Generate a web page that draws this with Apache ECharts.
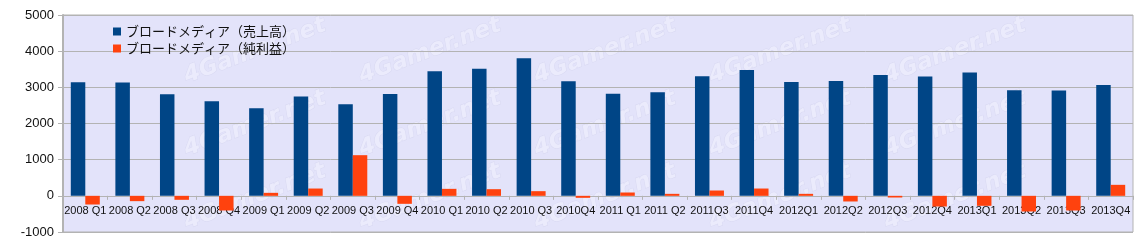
<!DOCTYPE html>
<html>
<head>
<meta charset="utf-8">
<script src="https://cdn.jsdelivr.net/npm/echarts@6/dist/echarts.min.js"></script>
<style>
html,body{margin:0;padding:0;background:#fff;}
#c{width:1146px;height:249px;}
</style>
</head>
<body>
<div id="c"></div>
<script>
const categories = ["2008 Q1","2008 Q2","2008 Q3","2008 Q4","2009 Q1","2009 Q2","2009 Q3","2009 Q4",
  "2010 Q1","2010 Q2","2010 Q3","2010Q4","2011 Q1","2011 Q2","2011Q3","2011Q4",
  "2012Q1","2012Q2","2012Q3","2012Q4","2013Q1","2013Q2","2013Q3","2013Q4"];
const salesName = "ブロードメディア（売上高）";
const profitName = "ブロードメディア（純利益）";
const sales = [3140,3135,2808,2615,2422,2744,2532,2817,
  3444,3517,3803,3168,2826,2864,3306,3480,
  3149,3177,3343,3297,3407,2919,2910,3066];
const profit = [-240,-147,-110,-405,83,202,1124,-221,
  193,184,129,-55,92,55,147,202,
  55,-156,-46,-295,-276,-433,-405,304];
const yTicks = {min:-1000, max:5000, interval:1000};
const watermarkText = "4Gamer.net";

const gridTop = 15, gridBottom = 17, gridLeft = 63, gridRight = 13, W = 1146, H = 249;
const plotH = H - gridTop - gridBottom;
// move the category axis up to the zero line of the value scale
const zeroOffset = -plotH * (0 - yTicks.min) / (yTicks.max - yTicks.min);

// faint repeated watermark kept inside the plot area
const marks = [];
for (let cx = 255; cx <= W - gridRight - 72; cx += 175) {
  for (let cy = 51; cy <= H - gridBottom - 35; cy += 73) {
    marks.push({
      type:'text', x:cx, y:cy, rotation:0.36, z:1, silent:true,
      style:{text:watermarkText, x:0, y:0, align:'center', verticalAlign:'middle',
        font:'italic bold 23px "DejaVu Sans", sans-serif',
        fill:'#ebebfc', stroke:'#d9d9f2', lineWidth:1}
    });
  }
}

const chart = echarts.init(document.getElementById('c'), null, {renderer:'canvas'});
chart.setOption({
  animation:false,
  textStyle:{fontFamily:'"Liberation Sans", Arial, sans-serif'},
  grid:{left:gridLeft, right:gridRight, top:gridTop, bottom:gridBottom, show:true, backgroundColor:'#e3e3fa', borderColor:'#b3b3b3', borderWidth:1},
  graphic:marks,
  legend:{
    left:108, top:20, orient:'vertical', itemWidth:8, itemHeight:8, itemGap:4, itemTextGap:4,
    icon:'rect',
    textStyle:{fontFamily:'"Noto Sans CJK JP", sans-serif', fontSize:13, color:'#111'},
    data:[salesName, profitName]
  },
  xAxis:{
    type:'category', data:categories, offset:zeroOffset,
    axisLine:{onZero:false, lineStyle:{color:'#b3b3b3', width:1}},
    axisTick:{show:true, length:4, lineStyle:{color:'#b3b3b3'}},
    axisLabel:{interval:0, fontSize:11, color:'#111', margin:10},
    z:2
  },
  yAxis:{
    type:'value', min:yTicks.min, max:yTicks.max, interval:yTicks.interval,
    axisLine:{show:true, lineStyle:{color:'#b3b3b3', width:2}},
    axisTick:{show:true, length:5, lineStyle:{color:'#b3b3b3'}},
    axisLabel:{fontSize:13, color:'#111', margin:9, formatter:function(v){return String(v);}},
    splitLine:{lineStyle:{color:'#b3b3b3', width:1}},
    z:2
  },
  series:[
    {name:salesName, type:'bar', data:sales, itemStyle:{color:'#004586'}, barGap:'0%', barCategoryGap:'35%', z:3},
    {name:profitName, type:'bar', data:profit, itemStyle:{color:'#ff420e'}, z:3}
  ]
});
</script>
</body>
</html>
